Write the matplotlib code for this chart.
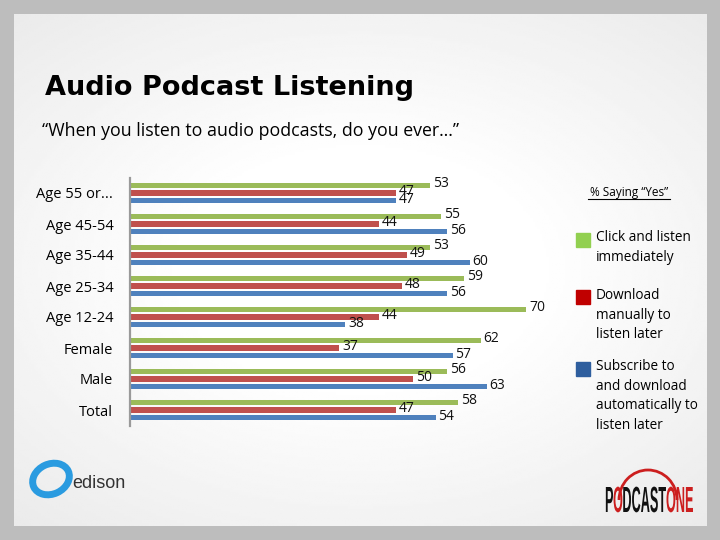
import numpy as np
import matplotlib
matplotlib.use("Agg")
import matplotlib.pyplot as plt
from matplotlib.patches import Rectangle, Ellipse, Arc, PathPatch
from matplotlib.textpath import TextPath
from matplotlib.font_manager import FontProperties
from matplotlib.transforms import Affine2D

categories = ["Age 55 or...", "Age 45-54", "Age 35-44", "Age 25-34",
              "Age 12-24", "Female", "Male", "Total"]
click_now = [53, 55, 53, 59, 70, 62, 56, 58]
download_manual = [47, 44, 49, 48, 44, 37, 50, 47]
subscribe_auto = [47, 56, 60, 56, 38, 57, 63, 54]
series_labels = ["Click and listen\nimmediately",
                 "Download\nmanually to\nlisten later",
                 "Subscribe to\nand download\nautomatically to\nlisten later"]

W, H = 720, 540
fig = plt.figure(figsize=(7.2, 5.4), dpi=100, facecolor="#bdbdbd")

def fx(x):
    return x / W

def fy(y):
    return 1 - y / H

# slide background with soft gradient
bg = fig.add_axes([fx(14), fy(526), fx(707) - fx(14), fy(14) - fy(526)])
gx, gy = np.meshgrid(np.linspace(-1, 1, 300), np.linspace(-1, 1, 220))
r = np.sqrt((gx * 0.9) ** 2 + (gy * 1.0) ** 2)
shade = 1 - 0.09 * np.clip(r - 0.45, 0, 1)
bg.imshow(shade, cmap="gray", vmin=0, vmax=1, aspect="auto", interpolation="bilinear")
bg.axis("off")

# chart axes
ax = fig.add_axes([fx(130), fy(425.5), fx(696) - fx(130), fy(177.5) - fy(425.5)])
ax.set_facecolor("none")
pos = np.arange(len(categories))
off = 0.245
bh = 0.17
colors = ["#9BBB59", "#C0504D", "#4F81BD"]
series = [click_now, download_manual, subscribe_auto]
for k, (vals, c) in enumerate(zip(series, colors)):
    ypos = pos + (k - 1) * off
    ax.barh(ypos, vals, height=bh, color=c)
    for yy, v in zip(ypos, vals):
        ax.text(v + 0.5, yy - 0.05, f"{v}", va="center", ha="left",
                fontsize=10, family=["Open Sans", "DejaVu Sans"], color="#111111")
ax.set_xlim(0, 100)
ax.set_ylim(7.5, -0.5)
ax.set_yticks(pos)
ax.set_yticklabels(categories, family=["Open Sans", "DejaVu Sans"], fontsize=10.5)
ax.tick_params(axis="y", length=0, pad=12)
ax.set_xticks([])
for s in ["top", "right", "bottom"]:
    ax.spines[s].set_visible(False)
ax.spines["left"].set_color("#9a9a9a")
ax.spines["left"].set_linewidth(1.6)

# titles
fig.text(fx(45), fy(88), "Audio Podcast Listening", fontsize=19.5, fontweight="bold",
         family=["DejaVu Sans"], va="center", ha="left")
fig.text(fx(42), fy(131), "\u201cWhen you listen to audio podcasts, do you ever\u2026\u201d",
         fontsize=12.8, family=["Open Sans", "DejaVu Sans"], va="center", ha="left")

# legend
fig.text(fx(629), fy(192), "% Saying \u201cYes\u201d", fontsize=8.5, ha="center", va="center",
         family=["Open Sans", "DejaVu Sans"])
fig.add_artist(plt.Line2D([fx(588), fx(670)], [fy(199), fy(199)], color="black", lw=0.8))
leg_colors = ["#92D050", "#C00000", "#2E5E9E"]
leg_tops = [233, 290, 362]
leg_first = [239, 297, 368]
for c, t, t1, lab in zip(leg_colors, leg_tops, leg_first, series_labels):
    fig.add_artist(Rectangle((fx(576), fy(t + 14)), fx(14), fy(t) - fy(t + 14),
                             transform=fig.transFigure, color=c))
    fig.text(fx(596), fy(t1 - 9), lab, fontsize=9.8, ha="left", va="top",
             family=["Open Sans", "DejaVu Sans"], linespacing=1.42)

# overlay axes in pixel coordinates for logos
ov = fig.add_axes([0, 0, 1, 1])
ov.set_xlim(0, W)
ov.set_ylim(H, 0)
ov.axis("off")
ov.patch.set_alpha(0)

# edison logo (approximate)
ov.add_patch(Ellipse((51, 479), 38, 30, angle=-25, fill=False, ec="#2a9be0", lw=5))
ov.text(72, 483, "edison", fontsize=13, color="#333333", va="center", ha="left",
        family=["Liberation Sans", "DejaVu Sans"])

# PodcastOne logo (approximate)
ov.add_patch(Arc((648, 500), 58, 60, theta1=180, theta2=360, color="#cc1f1f", lw=2))
fp = FontProperties(family="Liberation Sans", weight="bold")
pc_parts = [("P", "#111111"), ("O", "#cc1f1f"), ("DCAST", "#111111"), ("ONE", "#cc1f1f")]
paths = [TextPath((0, 0), t, size=100, prop=fp) for t, _ in pc_parts]
widths = [TextPath((0, 0), t, size=100, prop=fp).get_extents().x1 for t, _ in pc_parts]
sx = 88 / sum(widths)
cap = TextPath((0, 0), "P", size=100, prop=fp).get_extents().y1
sy = 25 / cap
xcur = 605
for (t, c), p, w in zip(pc_parts, paths, widths):
    tr = Affine2D().scale(sx, -sy).translate(xcur, 512)
    ov.add_patch(PathPatch(tr.transform_path(p), color=c, lw=0))
    xcur += w * sx

fig.savefig("out.png", dpi=100, facecolor=fig.get_facecolor())
